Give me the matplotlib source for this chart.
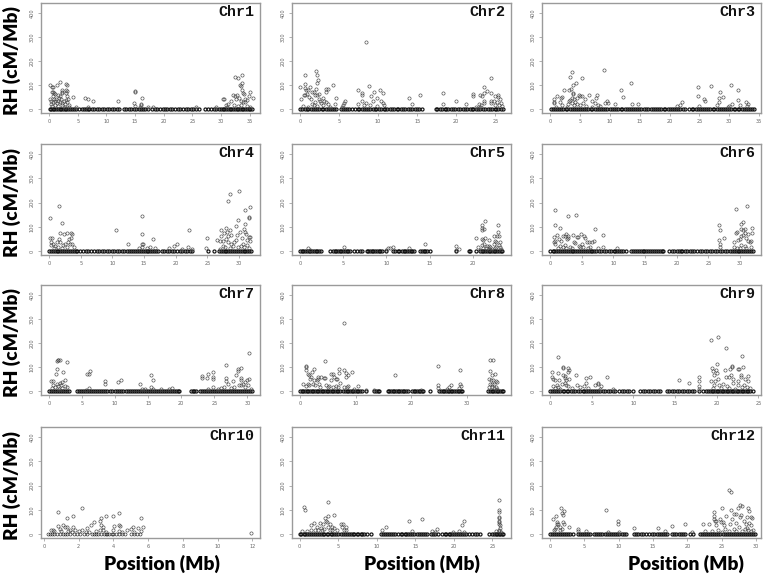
import matplotlib
matplotlib.use("Agg")
from matplotlib import pyplot as plt
import numpy as np

# points above the baseline (position Mb, RH)
chr1_pts = [(0.2,98),(0.5,90),(0.7,90),(1.4,98),(1.9,112),(3.0,103),(3.1,100),(2.3,78),(2.2,72),(3.0,80),(3.1,75),(0.5,70),(0.7,70),(0.8,68),(1.0,62),(0.7,55),(1.5,60),(1.9,55),(2.3,65),(2.9,65),(3.1,55),(4.2,48),(0.2,42),(0.4,35),(0.6,28),(0.3,22),(0.8,40),(1.0,32),(1.2,42),(1.3,25),(1.5,35),(1.7,45),(1.9,30),(2.1,40),(2.3,25),(2.5,35),(2.7,20),(2.9,38),(3.1,28),(3.3,40),(3.4,18),(0.5,12),(1.1,15),(1.6,12),(2.2,15),(2.8,10),(3.5,10),(4.6,6),(6.3,44),(6.7,42),(7.6,32),(6.8,8),(12.0,33),(14.9,70),(14.9,76),(14.8,25),(15.0,12),(16.2,47),(16.1,22),(16.0,15),(17.3,10),(15.8,8),(18.2,6),(25.7,10),(29.2,8),(30.4,40),(30.5,43),(30.8,15),(31.3,20),(31.8,32),(32.0,60),(32.4,52),(32.5,133),(32.9,130),(33.3,100),(33.4,95),(33.7,140),(33.6,107),(33.6,80),(33.9,68),(34.0,62),(34.1,40),(34.5,38),(34.8,52),(35.1,70),(35.6,45),(32.7,60),(32.6,40),(33.2,45),(33.5,35),(33.9,30),(34.2,28),(32.2,15),(33.0,12),(31.0,8),(33.4,18),(34.6,12),(35.0,10)]
chr2_pts = [(0.05,90),(0.1,42),(0.6,88),(0.7,103),(0.7,140),(0.8,80),(0.5,60),(0.7,58),(0.9,62),(1.1,78),(1.3,90),(1.2,48),(1.4,42),(1.5,72),(1.8,70),(1.9,60),(2.1,158),(2.15,140),(2.2,110),(2.35,120),(2.1,82),(2.2,60),(2.4,62),(2.5,40),(2.6,35),(3.3,85),(3.6,85),(3.3,70),(4.3,100),(4.6,47),(4.5,20),(2.9,45),(3.1,35),(3.4,30),(3.6,22),(1.6,22),(1.8,18),(2.0,28),(2.7,25),(3.0,15),(0.4,12),(1.0,10),(2.2,12),(3.8,10),(5.5,15),(5.6,25),(5.8,35),(5.4,8),(7.5,80),(7.9,65),(8.0,60),(8.5,278),(8.8,97),(7.5,20),(8.0,32),(8.2,18),(8.5,25),(9.1,55),(9.5,72),(9.3,35),(9.9,47),(10.3,80),(10.6,68),(10.4,32),(10.6,25),(9.0,15),(9.9,12),(10.8,18),(14.0,47),(14.4,20),(15.4,57),(18.3,66),(18.3,20),(20.0,35),(21.2,20),(22.2,62),(22.2,55),(23.0,58),(23.3,55),(23.5,65),(23.6,92),(23.9,75),(24.4,128),(24.4,65),(24.4,35),(25.0,55),(25.4,60),(25.3,48),(25.2,30),(24.8,35),(25.6,40),(23.6,35),(22.9,22),(23.2,15),(23.6,25),(24.5,25),(25.0,15),(25.5,15),(25.7,25),(25.8,12),(22.5,10),(23.0,8)]
chr3_pts = [(0.6,25),(0.6,30),(0.7,40),(1.2,53),(1.9,45),(2.0,50),(1.6,30),(2.4,80),(3.3,135),(3.6,152),(3.2,78),(3.5,85),(3.8,100),(3.8,68),(3.8,62),(4.3,108),(5.4,127),(3.4,38),(3.1,35),(3.6,45),(4.0,40),(4.5,45),(4.8,58),(5.0,55),(5.4,55),(5.8,42),(6.6,58),(7.1,35),(7.7,45),(7.9,58),(7.6,25),(8.0,15),(9.1,162),(9.2,25),(9.5,35),(9.7,25),(10.9,22),(11.9,80),(12.2,48),(13.5,108),(13.7,20),(14.7,20),(21.3,12),(21.8,18),(22.0,27),(24.8,92),(24.8,55),(25.8,40),(25.9,33),(26.9,95),(28.2,45),(28.4,70),(28.3,30),(29.0,48),(30.2,100),(30.5,22),(31.4,78),(31.4,36),(31.8,18),(32.8,28),(33.1,20),(28.0,15),(30.0,12),(1.0,10),(2.0,15),(3.0,22),(4.0,18),(4.5,22),(5.0,15),(2.8,10),(3.6,25),(4.2,28),(5.5,25),(6.0,12),(7.0,10),(8.3,12),(33.0,12),(29.8,8),(25.0,12)]
chr4_pts = [(0.2,138),(0.2,55),(0.5,52),(1.6,187),(1.7,75),(2.1,117),(1.6,50),(2.3,70),(2.9,75),(3.5,72),(3.2,50),(3.5,55),(3.7,68),(0.3,35),(0.3,25),(0.7,30),(1.0,20),(1.3,35),(1.8,35),(2.2,25),(2.6,30),(3.0,38),(3.3,30),(3.7,28),(3.9,15),(1.5,15),(2.0,12),(2.8,15),(0.8,12),(10.5,87),(12.5,30),(14.2,12),(14.7,145),(14.7,70),(14.7,30),(14.9,30),(14.6,15),(15.5,12),(16.0,15),(16.4,48),(16.8,10),(19.0,12),(19.8,22),(20.2,28),(21.0,8),(22.0,15),(22.1,87),(22.5,8),(24.9,52),(24.8,10),(26.5,45),(27.0,42),(27.1,85),(27.2,60),(27.5,40),(27.6,72),(28.0,95),(28.2,205),(28.5,235),(28.1,78),(28.3,62),(28.6,85),(28.8,65),(27.9,50),(28.2,35),(28.7,30),(29.5,103),(29.7,65),(29.9,128),(30.0,247),(30.1,80),(30.4,55),(30.8,90),(30.9,110),(31.0,170),(31.0,80),(31.1,70),(31.7,180),(31.6,140),(31.6,135),(31.5,58),(31.8,58),(31.7,40),(31.2,45),(30.6,30),(29.5,45),(29.2,35),(29.0,20),(27.5,20),(27.8,15),(28.5,12),(29.8,15),(30.3,20),(30.8,15),(31.2,25),(31.5,12),(27.0,8)]
chr5_pts = [(0.9,10),(1.2,5),(5.1,17),(10.0,5),(10.2,10),(10.7,15),(10.4,12),(12.6,12),(14.4,28),(18.0,22),(18.0,3),(18.4,8),(20.3,52),(21.0,105),(21.1,95),(21.0,85),(21.4,125),(21.3,90),(21.0,50),(21.4,52),(21.2,45),(21.8,45),(22.4,60),(22.5,40),(22.9,107),(22.9,78),(23.0,60),(23.1,35),(22.8,60),(22.7,35),(23.0,25),(23.1,15),(21.0,25),(21.3,30),(21.6,20),(21.8,22),(22.0,15),(22.4,30),(22.5,12),(20.6,15),(21.2,12),(21.5,10),(21.9,8),(22.2,8),(20.8,5),(22.7,18),(23.2,8)]
chr6_pts = [(0.8,170),(0.8,108),(0.7,58),(0.8,42),(0.7,38),(0.8,28),(1.1,65),(1.6,95),(1.5,48),(1.8,40),(2.1,60),(2.4,62),(2.6,70),(2.8,62),(2.9,145),(2.7,50),(2.9,55),(2.3,25),(1.6,20),(1.2,12),(3.6,65),(4.1,148),(4.3,57),(4.4,58),(3.8,35),(4.0,32),(4.9,70),(5.4,62),(5.5,52),(5.0,28),(4.6,22),(3.2,18),(5.8,35),(6.2,35),(6.6,38),(7.0,40),(7.1,92),(6.3,18),(7.5,12),(8.3,65),(8.3,18),(10.5,12),(2.0,15),(2.6,12),(3.5,12),(4.8,15),(5.2,18),(6.0,10),(26.7,107),(26.8,88),(26.7,45),(26.8,28),(26.8,18),(27.5,52),(29.0,35),(29.1,15),(29.4,72),(29.5,78),(29.4,175),(29.7,45),(30.0,50),(30.1,60),(30.1,112),(30.2,90),(30.5,118),(30.5,85),(30.7,75),(30.7,92),(30.5,65),(31.1,185),(31.0,55),(31.2,40),(31.3,70),(31.9,95),(31.9,75),(31.8,42),(31.5,38),(30.2,25),(30.8,20),(31.7,18),(29.5,12),(31.0,10),(30.0,12)]
chr7_pts = [(0.3,42),(0.6,42),(1.0,72),(1.2,93),(1.2,125),(1.3,130),(1.4,128),(1.6,130),(2.2,78),(2.7,120),(2.4,45),(2.0,38),(1.6,32),(1.2,30),(0.6,25),(0.9,15),(1.4,20),(1.8,25),(2.4,22),(2.7,15),(0.4,12),(2.0,12),(1.5,10),(5.8,70),(6.1,72),(6.2,82),(6.1,12),(5.6,5),(8.4,42),(8.4,30),(10.4,38),(10.9,45),(13.8,28),(14.0,10),(14.5,10),(15.4,65),(15.8,45),(15.4,15),(15.8,10),(17.0,8),(18.2,10),(18.6,12),(23.2,62),(23.2,52),(23.9,52),(24.0,72),(24.8,80),(24.8,58),(24.8,50),(24.8,15),(26.8,108),(26.8,55),(26.8,40),(27.0,30),(27.8,40),(28.2,68),(28.6,90),(28.6,82),(29.0,25),(29.1,95),(29.1,55),(29.1,45),(29.7,38),(30.0,45),(30.2,160),(30.2,48),(30.1,25),(29.4,30),(28.8,25),(28.0,18),(27.5,12),(26.5,15),(26.0,12),(25.5,10),(24.0,8),(30.5,8),(29.7,15)]
chr8_pts = [(1.0,98),(1.1,103),(1.1,88),(1.5,70),(1.7,65),(1.8,50),(1.9,58),(2.6,92),(2.1,78),(2.5,45),(3.0,47),(3.3,50),(3.3,60),(3.8,57),(4.3,55),(4.5,125),(4.5,55),(5.5,70),(5.6,45),(6.0,72),(6.2,60),(6.4,50),(6.6,48),(7.1,90),(7.1,75),(7.2,32),(8.0,285),(8.0,87),(8.2,75),(8.2,60),(8.6,65),(9.4,80),(10.4,22),(9.7,8),(0.6,28),(1.0,22),(1.4,30),(1.7,25),(2.3,30),(2.7,25),(3.4,30),(3.6,18),(4.6,25),(5.0,15),(5.3,22),(5.9,15),(6.4,22),(6.9,18),(8.0,15),(8.4,18),(8.7,20),(11.9,5),(13.4,5),(17.1,65),(21.8,5),(24.8,105),(24.8,25),(24.9,12),(26.4,8),(26.8,15),(27.2,25),(28.7,12),(28.9,88),(28.9,28),(29.0,22),(34.2,128),(34.3,82),(34.8,130),(34.6,68),(35.2,70),(34.0,48),(34.4,45),(34.8,45),(35.3,42),(35.5,38),(34.2,30),(34.6,30),(35.0,28),(35.3,18),(34.0,15),(34.5,18),(34.9,12),(35.5,10)]
chr9_pts = [(0.2,78),(0.2,58),(0.3,50),(0.6,45),(0.9,142),(1.0,75),(1.1,45),(1.5,65),(1.6,100),(1.6,95),(1.8,62),(1.8,55),(1.9,45),(2.2,95),(2.25,88),(2.2,78),(2.3,50),(3.1,65),(4.3,52),(4.8,57),(4.3,35),(4.1,22),(3.2,25),(3.6,15),(5.4,25),(5.7,30),(5.8,35),(6.1,22),(6.8,60),(7.6,10),(0.3,20),(0.8,25),(1.0,18),(1.4,30),(1.8,35),(1.9,25),(2.2,20),(2.6,12),(0.6,12),(1.2,10),(4.5,12),(6.0,10),(15.5,45),(16.7,32),(17.9,58),(17.9,40),(17.9,20),(17.9,10),(19.3,212),(19.4,95),(19.6,85),(19.7,65),(19.3,40),(19.8,40),(19.9,88),(20.0,112),(20.1,225),(20.0,75),(20.1,48),(20.3,25),(19.7,25),(21.0,88),(21.1,180),(21.1,58),(21.5,60),(21.6,92),(21.8,98),(21.8,105),(21.7,65),(21.9,50),(22.6,92),(22.7,90),(22.9,68),(22.9,58),(23.0,145),(23.1,100),(22.6,42),(23.4,50),(23.7,40),(23.8,62),(22.0,35),(22.5,25),(23.3,25),(21.2,20),(20.7,30),(23.0,15),(23.6,15),(24.0,12),(19.5,12),(20.5,12),(21.5,12),(22.2,10)]
chr10_pts = [(0.8,92),(0.8,32),(0.9,22),(1.1,35),(1.2,30),(1.3,65),(1.3,28),(1.7,75),(1.7,28),(2.2,107),(2.5,25),(2.7,35),(2.9,48),(3.2,52),(3.3,65),(3.3,38),(3.4,28),(3.6,72),(4.0,75),(4.05,32),(4.3,88),(4.3,38),(4.4,32),(5.1,28),(5.6,67),(5.7,28),(5.4,25),(0.4,15),(0.5,15),(0.6,12),(1.0,12),(1.4,12),(1.5,15),(1.6,8),(1.8,18),(2.0,12),(2.2,15),(2.4,8),(2.6,8),(3.0,12),(3.2,18),(3.4,15),(3.6,8),(4.0,18),(4.3,12),(4.5,8),(4.8,15),(5.0,20),(5.2,8),(5.6,12),(11.95,5)]
chr11_pts = [(0.6,112),(0.7,98),(1.4,35),(1.9,45),(2.2,30),(2.6,45),(2.7,25),(3.0,40),(3.3,65),(3.4,55),(3.6,48),(3.7,132),(3.7,72),(3.9,40),(3.7,30),(4.4,78),(4.2,30),(4.5,25),(4.8,18),(5.4,42),(5.6,42),(5.5,30),(6.0,28),(6.0,18),(5.7,15),(1.0,12),(1.5,15),(2.0,15),(2.4,18),(2.9,15),(3.2,22),(3.9,18),(4.2,15),(0.3,12),(10.7,18),(11.2,28),(14.2,55),(14.5,10),(15.9,62),(17.2,12),(17.8,20),(17.5,8),(19.9,8),(20.6,10),(21.1,38),(21.3,55),(21.3,8),(25.5,12),(25.8,140),(25.8,97),(25.8,92),(25.8,70),(25.8,65),(25.8,55),(25.8,48),(25.9,40),(26.0,35),(26.0,25),(25.9,18),(25.8,12),(26.1,8)]
chr12_pts = [(0.5,60),(0.9,75),(0.8,30),(0.7,22),(0.6,15),(1.0,48),(1.0,42),(1.2,40),(1.4,30),(1.5,15),(1.6,105),(1.7,88),(1.9,78),(2.1,93),(1.9,48),(2.1,40),(1.8,20),(2.7,28),(4.0,22),(4.0,12),(5.3,10),(8.2,97),(8.5,8),(9.9,52),(9.9,42),(10.0,8),(12.2,25),(15.7,25),(16.8,12),(17.8,32),(19.6,42),(20.6,8),(22.2,42),(22.5,10),(23.2,40),(23.8,90),(23.8,72),(23.9,60),(24.0,55),(24.2,55),(24.1,35),(24.8,60),(24.9,48),(25.0,108),(25.1,50),(25.3,35),(25.6,72),(26.0,182),(26.2,42),(26.4,175),(26.4,98),(26.5,60),(26.7,82),(27.0,82),(27.1,45),(27.4,108),(27.6,120),(27.7,70),(27.8,80),(27.9,115),(28.2,55),(28.5,42),(28.8,105),(29.0,95),(28.7,68),(29.2,70),(29.4,65),(29.0,45),(29.3,35),(29.5,18),(28.6,25),(28.3,20),(27.5,30),(26.8,20),(25.5,22),(24.5,15),(26.0,12),(27.0,10),(28.0,12),(28.8,15),(29.2,10),(23.5,10),(25.0,8)]

# positions of the points sitting on zero
chr1_base = [0.1,0.3,0.6,0.9,1.2,1.5,1.8,2.1,2.4,2.7,3.0,3.3,3.6,3.9,4.3,4.7,5.2,5.8,6.1,6.4,6.7,7.0,7.4,7.8,8.3,8.7,9.2,9.6,10.1,10.5,11.0,11.4,11.8,12.2,13.0,13.4,13.9,14.3,14.8,15.2,15.6,16.0,16.4,16.8,17.2,18.0,18.4,18.9,19.3,19.8,20.2,20.6,21.1,21.5,22.0,22.4,22.9,23.3,23.8,24.2,24.7,25.1,25.6,26.1,27.2,27.7,28.3,28.7,29.2,29.6,30.0,30.3,30.6,30.9,31.2,31.5,31.8,32.1,32.4,32.7,33.0,33.3,33.6,33.9,34.2,34.5,34.8,35.1,35.4]
chr2_base = [0.05,0.3,0.6,0.9,1.1,1.4,1.7,1.9,2.2,2.5,2.8,3.0,3.3,3.6,3.9,4.1,4.4,4.6,5.3,5.5,5.8,6.0,6.3,6.7,7.1,7.4,7.6,7.9,8.2,8.5,8.7,9.0,9.3,9.6,9.8,10.1,10.4,10.7,10.9,11.2,11.5,11.8,12.1,12.4,12.6,12.9,13.2,13.5,13.8,14.1,14.3,14.7,15.0,15.3,15.6,17.4,17.6,17.9,18.2,18.5,18.7,19.0,19.3,19.6,19.9,20.2,20.5,20.8,21.1,21.4,21.7,22.0,22.2,22.5,22.8,23.1,23.4,23.7,24.0,24.3,24.6,24.9,25.1,25.4,25.7,25.95]
chr3_base = [0.1,0.5,0.8,1.2,1.5,1.9,2.2,2.6,2.9,3.3,3.6,4.0,4.3,4.7,5.0,5.4,5.7,6.1,6.4,6.8,7.1,7.5,7.8,8.2,8.5,8.9,9.2,9.6,10.0,10.4,10.7,11.1,11.4,11.8,12.1,12.5,12.8,13.2,13.5,13.9,14.2,14.6,14.9,15.3,15.7,16.1,16.4,16.9,17.2,17.6,17.9,18.3,18.6,19.0,19.3,19.7,20.0,20.4,20.7,21.1,21.4,21.8,22.2,22.6,23.3,23.7,24.0,24.4,24.7,25.1,25.4,25.8,26.1,26.5,26.8,27.2,27.5,27.9,28.2,28.6,28.9,29.3,29.6,30.0,30.3,30.7,31.0,31.4,31.7,32.1,32.4,32.8,33.1,33.5,33.8,34.1]
chr4_base = [0.0,0.3,0.6,0.9,1.2,1.5,1.8,2.1,2.4,2.7,3.0,3.3,3.6,3.9,4.2,4.4,4.9,5.3,5.8,6.2,6.6,7.1,7.5,7.9,8.3,8.7,9.1,9.5,9.9,10.3,10.7,11.1,11.5,11.9,12.3,12.7,13.0,13.3,13.6,13.9,14.2,14.5,14.8,15.1,15.4,15.7,16.0,16.3,16.6,16.9,17.2,17.8,18.2,18.6,19.0,19.4,19.8,20.2,20.6,21.0,21.4,21.8,22.2,22.6,25.1,26.0,26.8,27.1,27.4,27.7,28.0,28.3,28.6,28.9,29.2,29.5,29.8,30.1,30.4,30.7,31.0,31.3,31.6,31.9]
chr5_base = [0.0,0.2,0.4,0.6,0.8,1.0,1.2,1.4,1.6,1.8,2.0,2.2,2.4,3.5,3.8,4.0,4.2,4.4,4.6,4.8,5.0,5.2,5.4,5.6,5.8,6.3,6.6,6.9,7.2,7.7,7.9,8.1,8.3,8.5,8.7,8.9,9.1,9.3,9.5,10.0,10.8,11.0,11.3,11.5,11.8,12.0,12.2,12.4,12.6,12.8,13.0,13.2,13.9,14.1,14.3,14.5,14.7,15.0,18.0,19.5,19.7,20.4,20.8,21.0,21.2,21.4,21.6,21.8,22.0,22.2,22.4,22.6,22.8,23.0,23.2,23.4]
chr6_base = [0.0,0.4,0.7,1.0,1.3,1.6,1.9,2.2,2.5,2.8,3.1,3.4,3.7,4.0,4.3,4.6,4.9,5.2,5.5,5.8,6.1,6.4,6.7,7.0,7.3,7.7,8.1,8.5,8.9,9.3,9.7,10.1,10.3,10.6,10.9,11.2,11.6,12.0,12.8,13.1,13.4,13.7,14.0,14.3,14.6,14.9,15.2,15.5,15.8,16.1,16.4,16.7,17.0,17.3,17.6,17.9,18.8,19.2,19.6,20.0,20.3,20.6,20.9,21.3,21.7,22.1,22.4,22.8,23.2,23.6,24.0,24.4,24.8,25.2,25.6,26.0,26.4,26.8,27.2,27.6,28.0,28.4,28.7,29.0,29.3,29.6,29.9,30.2,30.5,30.8,31.1,31.4,31.7,32.0]
chr7_base = [0.0,0.3,0.6,0.9,1.2,1.5,1.8,2.1,2.4,2.7,3.0,4.2,4.5,4.8,5.1,5.4,5.7,6.0,6.3,6.6,6.9,7.2,7.5,7.8,8.1,8.4,8.7,9.2,9.5,10.0,10.3,10.6,10.9,11.2,11.6,12.0,12.3,12.6,12.9,13.2,13.5,13.8,14.1,14.4,14.7,15.0,15.3,15.6,15.9,16.2,16.5,16.8,17.1,17.4,17.7,18.0,18.3,18.6,18.9,19.2,19.5,19.7,21.4,21.7,22.0,22.3,22.9,23.2,23.5,23.8,24.1,24.4,24.7,25.0,25.3,25.6,25.9,26.2,26.5,26.8,27.1,27.4,27.7,28.0,28.3,28.6,28.9,29.2,29.5,29.8,30.1,30.4,30.7]
chr8_base = [0.0,0.3,0.6,0.9,1.2,1.5,1.8,2.1,2.4,2.7,3.0,3.3,3.6,3.9,4.2,4.5,4.8,5.1,5.4,5.7,6.0,6.3,6.6,6.9,7.2,7.8,8.1,8.4,8.7,9.0,9.3,9.6,9.9,10.2,10.5,10.8,11.1,11.9,13.4,13.7,14.0,14.3,15.8,16.1,16.4,16.7,17.0,17.3,17.6,17.9,18.2,18.5,18.8,19.1,19.4,20.2,20.5,20.8,21.1,21.4,21.7,22.0,22.2,23.4,25.0,25.4,25.7,26.0,26.3,26.6,26.9,27.2,27.4,27.8,28.1,28.4,28.7,29.0,29.2,33.9,34.2,34.5,34.8,35.1,35.4,35.7,36.0,36.3,36.6]
chr9_base = [0.0,0.2,0.5,0.7,1.0,1.2,1.5,1.7,2.0,2.2,2.5,2.7,3.0,3.3,3.6,3.9,4.1,4.3,4.6,4.8,5.0,5.3,5.5,5.8,6.0,6.3,6.6,6.9,7.2,7.5,7.8,8.3,8.6,8.9,9.2,9.5,10.0,10.8,11.1,11.4,11.7,12.0,12.3,12.6,12.9,13.2,14.0,14.3,14.6,14.9,15.2,15.5,15.8,16.1,16.4,16.7,17.0,17.3,17.9,18.4,18.7,19.0,19.2,19.4,19.6,19.8,20.0,20.2,20.4,20.6,20.8,21.0,21.2,21.4,21.6,21.8,22.0,22.2,22.4,22.6,22.8,23.0,23.2,23.4,23.6,23.8,24.0,24.3]
chr10_base = [0.25,0.35,0.45,0.6,0.75,0.95,1.1,1.2,1.3,1.5,1.75,1.9,2.1,2.3,2.5,2.75,2.9,3.0,3.1,3.3,3.45,3.55,3.65,3.75,3.9,4.0,4.15,4.3,4.5,4.65,5.0,5.2,5.35,5.55]
chr11_base = [0.0,0.2,0.5,0.7,1.0,1.2,1.5,1.7,2.0,2.2,2.5,2.7,3.0,3.2,3.5,3.7,4.0,4.2,4.5,4.7,5.0,5.4,5.6,5.9,6.1,6.4,6.6,6.9,7.1,7.4,7.6,7.9,8.1,8.4,8.7,9.3,10.6,10.8,11.1,11.3,11.6,11.8,12.1,12.4,12.8,13.1,13.3,13.6,13.8,14.1,14.3,14.6,14.8,15.2,15.5,15.7,16.0,16.2,16.5,17.0,17.3,17.6,17.9,18.5,18.8,19.0,19.3,19.5,19.8,20.0,20.3,20.5,20.8,21.0,21.3,21.6,21.9,22.3,22.7,23.0,23.4,24.6,24.9,25.2,25.4,25.6,25.8,26.0,26.2,26.4]
chr12_base = [0.0,0.3,0.6,0.9,1.1,1.4,1.7,2.0,2.3,2.6,2.9,3.4,4.0,4.3,4.6,4.9,5.2,5.5,5.8,6.4,6.7,7.0,7.3,7.6,8.0,8.3,8.6,8.9,9.2,9.5,9.8,10.1,10.4,10.7,11.0,12.2,12.5,12.8,13.2,13.6,14.0,14.4,14.8,15.2,15.5,15.8,16.1,16.4,16.7,17.0,17.8,18.1,18.4,18.7,19.0,19.3,19.6,20.4,20.8,21.8,22.1,22.4,22.7,23.0,23.3,23.6,23.9,24.2,24.5,24.8,25.1,25.4,25.7,26.0,26.3,26.6,26.9,27.2,27.5,27.8,28.1,28.4,28.7,29.0,29.3,29.6,29.8]

chr_names = ["Chr1", "Chr2", "Chr3", "Chr4", "Chr5", "Chr6", "Chr7", "Chr8", "Chr9", "Chr10", "Chr11", "Chr12"]
chr_pts = [chr1_pts, chr2_pts, chr3_pts, chr4_pts, chr5_pts, chr6_pts, chr7_pts, chr8_pts, chr9_pts, chr10_pts, chr11_pts, chr12_pts]
chr_base = [chr1_base, chr2_base, chr3_base, chr4_base, chr5_base, chr6_base, chr7_base, chr8_base, chr9_base, chr10_base, chr11_base, chr12_base]
x_ticks = [range(0, 36, 5), range(0, 26, 5), range(0, 36, 5), range(0, 31, 5), range(0, 21, 5), range(0, 31, 5),
           range(0, 31, 5), range(0, 31, 10), range(0, 26, 5), range(0, 13, 2), range(0, 26, 5), range(0, 31, 5)]
x_lims = [(-1.43, 36.8), (-1.0, 27.0), (-1.34, 35.3), (-1.26, 33.3), (-0.92, 24.4), (-1.26, 33.3),
          (-1.2, 31.9), (-1.44, 38.0), (-0.96, 25.3), (-0.17, 12.44), (-1.0, 27.4), (-1.17, 30.7)]
y_ticks = [0, 100, 200, 300, 400]

W, H = 764, 576
# axes edges in pixels
lefts = [41, 292, 542]
ax_w = 219
tops = [3, 144, 285, 427]
bottoms = [113, 255, 395, 538]
GREY = "#9a9a9a"

fig = plt.figure(figsize=(W / 100, H / 100), dpi=100)

for i in range(12):
    row, col = i // 3, i % 3
    ax = fig.add_axes([lefts[col] / W, 1 - bottoms[row] / H, ax_w / W, (bottoms[row] - tops[row]) / H])
    pts = np.array(chr_pts[i])
    base = np.array(chr_base[i])
    # the zero row is so packed in the original that it reads as a solid band
    base_mew = 0.4 if chr_names[i] == "Chr10" else 0.85
    ax.plot(base, np.zeros_like(base), "o", mfc="none", mec="#111111", ms=2.2, mew=base_mew)
    ax.plot(pts[:, 0], pts[:, 1], "o", mfc="none", mec="#444444", ms=2.3, mew=0.45)
    ax.set_xlim(x_lims[i])
    ax.set_ylim(-17, 442)
    ax.set_xticks(list(x_ticks[i]))
    ax.set_yticks(y_ticks)
    ax.tick_params(axis="x", length=2, width=0.4, color="#777777", labelsize=3.6, labelcolor="#666666", pad=2.5)
    ax.tick_params(axis="y", length=2, width=0.4, color="#777777", labelsize=3.6, labelcolor="#666666", pad=2.5)
    for lab in ax.get_yticklabels():
        lab.set_rotation(90)
        lab.set_va("center")
    for s in ax.spines.values():
        s.set_color(GREY)
        s.set_linewidth(1.0)
    ax.text(0.975, 0.915, chr_names[i], transform=ax.transAxes, ha="right", va="center",
            family="Liberation Mono", fontweight="bold", fontsize=10.8, color="#111111")

for row in range(4):
    fig.text(12 / W, 1 - ((tops[row] + bottoms[row]) / 2 + 3) / H, "RH (cM/Mb)", rotation=90, ha="center", va="center",
             family="Lato", fontweight="heavy", fontsize=13.8, color="black")

for xc in [162, 422, 686]:
    fig.text(xc / W, 1 - 564 / H, "Position (Mb)", ha="center", va="center",
             family="Lato", fontweight="heavy", fontsize=13.8, color="black")

fig.savefig("out.png", dpi=100)
